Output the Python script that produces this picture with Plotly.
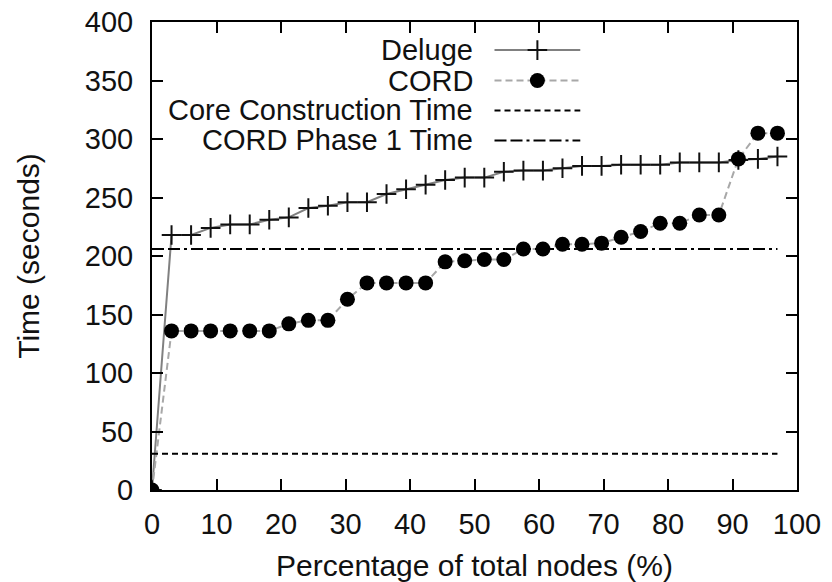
import plotly.graph_objects as go

# ---- data ----
pct_nodes = [0, 3.03, 6.06, 9.09, 12.12, 15.15, 18.18, 21.21, 24.24, 27.27, 30.30,
             33.33, 36.36, 39.39, 42.42, 45.45, 48.48, 51.52, 54.55, 57.58, 60.61,
             63.64, 66.67, 69.70, 72.73, 75.76, 78.79, 81.82, 84.85, 87.88, 90.91,
             93.94, 96.97]
deluge_time = [0, 218, 218, 224, 227, 227, 231, 233, 241, 243, 246, 246, 253, 257,
               261, 265, 267, 267, 272, 273, 273, 275, 277, 277, 278, 278, 278, 280,
               280, 280, 282, 283, 285]
cord_time = [0, 136, 136, 136, 136, 136, 136, 142, 145, 145, 163, 177, 177, 177, 177,
             195, 196, 197, 197, 206, 206, 210, 210, 211, 216, 221, 228, 228, 235, 235,
             283, 305, 305]
core_construction_time = 31
cord_phase1_time = 206
series_names = ["Deluge", "CORD", "Core Construction Time", "CORD Phase 1 Time"]
x_ticks = [0, 10, 20, 30, 40, 50, 60, 70, 80, 90, 100]
y_ticks = [0, 50, 100, 150, 200, 250, 300, 350, 400]

FONT = "Liberation Sans, Arial, Helvetica, sans-serif"
TICK_SIZE = 29
TITLE_SIZE = 30

deluge_style = dict(line=dict(color="#808080", width=2),
                    marker=dict(symbol="cross-thin-open", size=14,
                                line=dict(color="#111111", width=2), color="#111111"))
cord_style = dict(line=dict(color="#a8a8a8", width=2, dash="7px,4px"),
                  marker=dict(symbol="circle", size=15, color="#000000",
                              line=dict(width=0)))
core_style = dict(line=dict(color="#000000", width=2, dash="6px,4px"))
phase_style = dict(line=dict(color="#000000", width=2,
                             dash="12px,4px,12px,4px,3px,4px"))

fig = go.Figure()

fig.add_trace(go.Scatter(x=pct_nodes, y=deluge_time, mode="lines+markers",
                         name=series_names[0], showlegend=False, **deluge_style))
fig.add_trace(go.Scatter(x=pct_nodes, y=cord_time, mode="lines+markers",
                         name=series_names[1], showlegend=False, **cord_style))
fig.add_trace(go.Scatter(x=[pct_nodes[0], pct_nodes[-1]],
                         y=[core_construction_time] * 2, mode="lines",
                         name=series_names[2], showlegend=False, **core_style))
fig.add_trace(go.Scatter(x=[pct_nodes[0], pct_nodes[-1]],
                         y=[cord_phase1_time] * 2, mode="lines",
                         name=series_names[3], showlegend=False, **phase_style))

# ---- gnuplot-style key (text right, sample left) on an overlay axis ----
key_text_x = 0.50
key_x0, key_x1 = 0.531, 0.664
key_rows = [0.940, 0.875, 0.811, 0.747]
key_styles = [deluge_style, cord_style, core_style, phase_style]
for name, row, st in zip(series_names, key_rows, key_styles):
    xm = (key_x0 + key_x1) / 2
    fig.add_trace(go.Scatter(x=[key_x0, key_x1], y=[row] * 2, mode="lines",
                             line=st["line"], xaxis="x2", yaxis="y2",
                             showlegend=False, hoverinfo="skip"))
    if "marker" in st:
        fig.add_trace(go.Scatter(x=[xm], y=[row], mode="markers", marker=st["marker"],
                                 xaxis="x2", yaxis="y2", showlegend=False,
                                 hoverinfo="skip"))
    fig.add_annotation(x=key_text_x, y=row, xref="x2", yref="y2", text=name,
                       showarrow=False, xanchor="right", yanchor="middle",
                       font=dict(family=FONT, size=TICK_SIZE, color="#111111"))

axis_common = dict(showline=True, linecolor="#000000", linewidth=2, mirror="ticks",
                   ticks="inside", ticklen=11, tickwidth=2, tickcolor="#000000",
                   showgrid=False, zeroline=False, ticklabeloverflow="allow",
                   tickfont=dict(family=FONT, size=TICK_SIZE, color="#111111"))

fig.update_layout(
    width=832, height=582,
    margin=dict(l=152, r=35, t=22, b=92, autoexpand=False),
    paper_bgcolor="white", plot_bgcolor="white",
    xaxis=dict(range=[0, 100], tickvals=x_ticks, ticklabelstandoff=7,
               title=dict(text="Percentage of total nodes (%)", standoff=22,
                          font=dict(family=FONT, size=TITLE_SIZE, color="#111111")),
               **axis_common),
    yaxis=dict(range=[0, 400], tickvals=y_ticks, ticklabelstandoff=11,
               title=dict(text="Time (seconds)", standoff=36,
                          font=dict(family=FONT, size=TITLE_SIZE, color="#111111")),
               **axis_common),
    xaxis2=dict(range=[0, 1], overlaying="x", visible=False, anchor="y2"),
    yaxis2=dict(range=[0, 1], overlaying="y", visible=False, anchor="x2"),
    showlegend=False,
)

fig.write_html("out.html", config={"displayModeBar": False},
               post_script="document.body.style.margin='0';")
